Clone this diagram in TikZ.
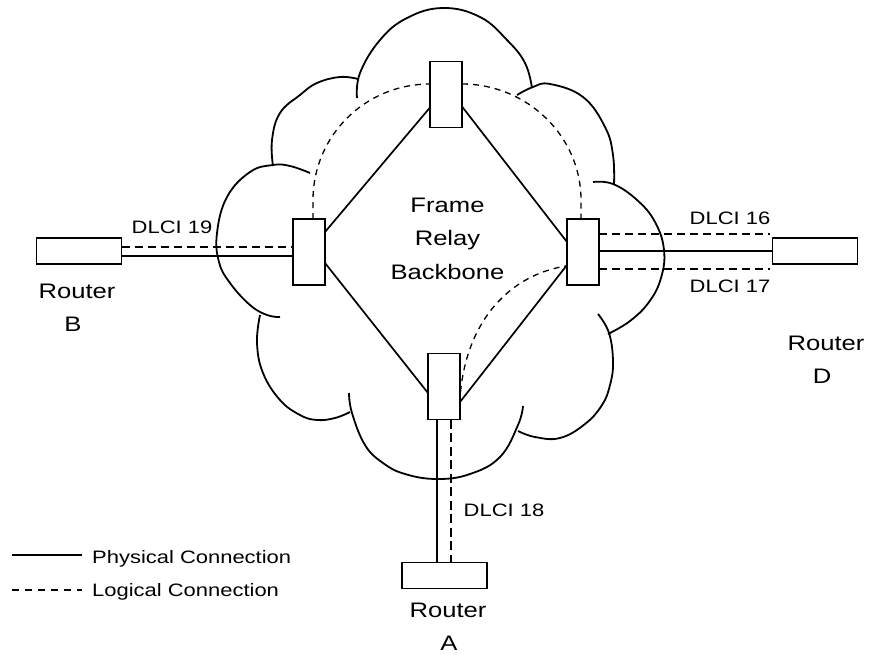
\documentclass[tikz,border=0pt]{standalone}
\usepackage{fontspec}
\setmainfont[FakeStretch=1.22]{Liberation Sans}
\usetikzlibrary{calc}
\begin{document}
\begin{tikzpicture}[x=1pt,y=-1pt,
  switchbox/.style={draw,line width=1.8pt,minimum width=32pt,minimum height=66pt,inner sep=0pt,outer sep=0pt},
  routerbox/.style={draw,line width=1.8pt,minimum width=85pt,minimum height=26pt,inner sep=0pt,outer sep=0pt},
  cloudline/.style={line width=1.8pt,line join=round},
  phys/.style={line width=1.7pt},
  logic/.style={line width=2.5pt,dash pattern=on 8pt off 5pt},
  vc/.style={line width=1.3pt,dash pattern=on 6pt off 5pt},
  big/.style={inner sep=0pt,anchor=base,font=\fontsize{21}{25}\selectfont},
  small/.style={inner sep=0pt,anchor=base,font=\fontsize{18}{21}\selectfont}]
\useasboundingbox (0,0) rectangle (869,655);

% cloud outline, one scallop at a time
\draw[cloudline] plot[smooth,tension=0.7] coordinates {(357,98) (360,73) (380,40) (407,18) (443,8) (480,17) (507,40) (525,63) (532,88)};
\draw[cloudline] plot[smooth,tension=0.7] coordinates {(517,95) (533,87) (550,84) (583,97) (605,127) (613,155) (614,185)};
\draw[cloudline] plot[smooth,tension=0.7] coordinates {(593,182) (613,184) (637,200) (655,222) (664,250) (661,278) (649,302) (630,321) (608,334)};
\draw[cloudline] plot[smooth,tension=0.7] coordinates {(598,314) (609,333) (613,362) (610,385) (602,405) (585,424) (560,438) (535,437) (518,431)};
\draw[cloudline] plot[smooth,tension=0.7] coordinates {(523,406) (518,425) (500,457) (470,474) (437,479) (405,474) (383,463) (365,445) (352,413) (349,393)};
\draw[cloudline] plot[smooth,tension=0.7] coordinates {(260,315) (257,343) (263,373) (280,400) (300,415) (317,420) (335,418) (350,412)};
\draw[cloudline] plot[smooth,tension=0.7] coordinates {(310,173) (290,166) (273,165) (250,172) (227,197) (217,233) (219,262) (230,283) (250,305) (267,315) (280,317)};
\draw[cloudline] plot[smooth,tension=0.7] coordinates {(273,166) (272,140) (280,113) (300,95) (317,83) (340,77) (358,79)};

% frame relay switches
\node[switchbox] (ST) at (446,94.5) {};
\node[switchbox] (SL) at (309,252) {};
\node[switchbox] (SR) at (583,252) {};
\node[switchbox] (SB) at (444,386.5) {};

% routers
\node[routerbox] (RB) at (79,251) {};
\node[routerbox] (RD) at (815,251) {};
\node[routerbox] (RA) at (444.5,575.5) {};

% backbone trunks
\draw[phys] ($(ST.south west)+(0pt,20pt)$) -- ($(SL.east)+(0pt,20pt)$);
\draw[phys] ($(ST.south east)+(0pt,21pt)$) -- ($(SR.west)+(0pt,10pt)$);
\draw[phys] ($(SL.east)+(0pt,-11pt)$) -- ($(SB.west)+(0pt,-6.5pt)$);
\draw[phys] ($(SB.east)+(0pt,-15.5pt)$) -- ($(SR.west)+(0pt,-13pt)$);

% virtual circuits through the backbone
\draw[vc] ($(SL.north)+(4pt,0pt)$) -- ++(0pt,19pt)
  .. controls +(0pt,64pt) and +(-65pt,0pt) .. ($(ST.west)+(0pt,10.5pt)$);
\draw[vc] ($(ST.east)+(0pt,10.5pt)$)
  .. controls +(65pt,0pt) and +(0pt,64pt) .. ($(SR.north)+(-2pt,19pt)$) -- ($(SR.north)+(-2pt,0pt)$);
\draw[vc] ($(SB.east)+(0.5pt,-5.5pt)$)
  .. controls +(7pt,72pt) and +(-56pt,-9pt) .. ($(SR.west)+(-1pt,-14pt)$);

% access links
\draw[phys] ($(RB.east)+(0pt,-5pt)$) -- ($(RB.east -| SL.west)+(0pt,-5pt)$);
\draw[logic] ($(RB.east)+(0pt,4pt)$) -- ($(RB.east -| SL.west)+(0pt,4pt)$);
\draw[phys] (SR.east |- RD.west) -- (RD.west);
\draw[logic] ($(SR.east |- RD.west)+(0pt,17pt)$) -- ($(RD.west)+(-3pt,17pt)$);
\draw[logic] ($(SR.east |- RD.west)+(0pt,-18pt)$) -- ($(RD.west)+(-3pt,-18pt)$);
\draw[phys] ($(SB.south)+(-7pt,0pt)$) -- ($(SB.south |- RA.north)+(-7pt,0pt)$);
\draw[logic,dash pattern=on 9pt off 4.5pt] ($(SB.south)+(7pt,0pt)$) -- ($(SB.south |- RA.north)+(7pt,0pt)$);

% labels
\node[big] (t1) at (447.5,212) {Frame};
\node[big] (t2) at (447.5,245) {Relay};
\node[big] (t3) at (447.5,279) {Backbone};
\node[big] (lb1) at (77,298) {Router};
\node[big] (lb2) at (73,331) {B};
\node[big] (ld1) at (826,350) {Router};
\node[big] (ld2) at (822,383) {D};
\node[big] (la1) at (448,617) {Router};
\node[big] (la2) at (449,650) {A};
\node[small] (d19) at (172,233) {DLCI 19};
\node[small] (d16) at (730,224) {DLCI 16};
\node[small] (d17) at (730,292) {DLCI 17};
\node[small] (d18) at (504,516) {DLCI 18};

% legend
\coordinate (p1) at (12,555);
\coordinate (p2) at (82,555);
\coordinate (q1) at (12,590);
\coordinate (q2) at (82,590);
\draw[phys] (p1) -- (p2);
\draw[logic,line width=2.2pt,dash pattern=on 7pt off 6pt] (q1) -- (q2);
\node[small,anchor=base west] (lg1) at (92,563) {Physical Connection};
\node[small,anchor=base west] (lg2) at (92,596) {Logical Connection};
\end{tikzpicture}
\end{document}
